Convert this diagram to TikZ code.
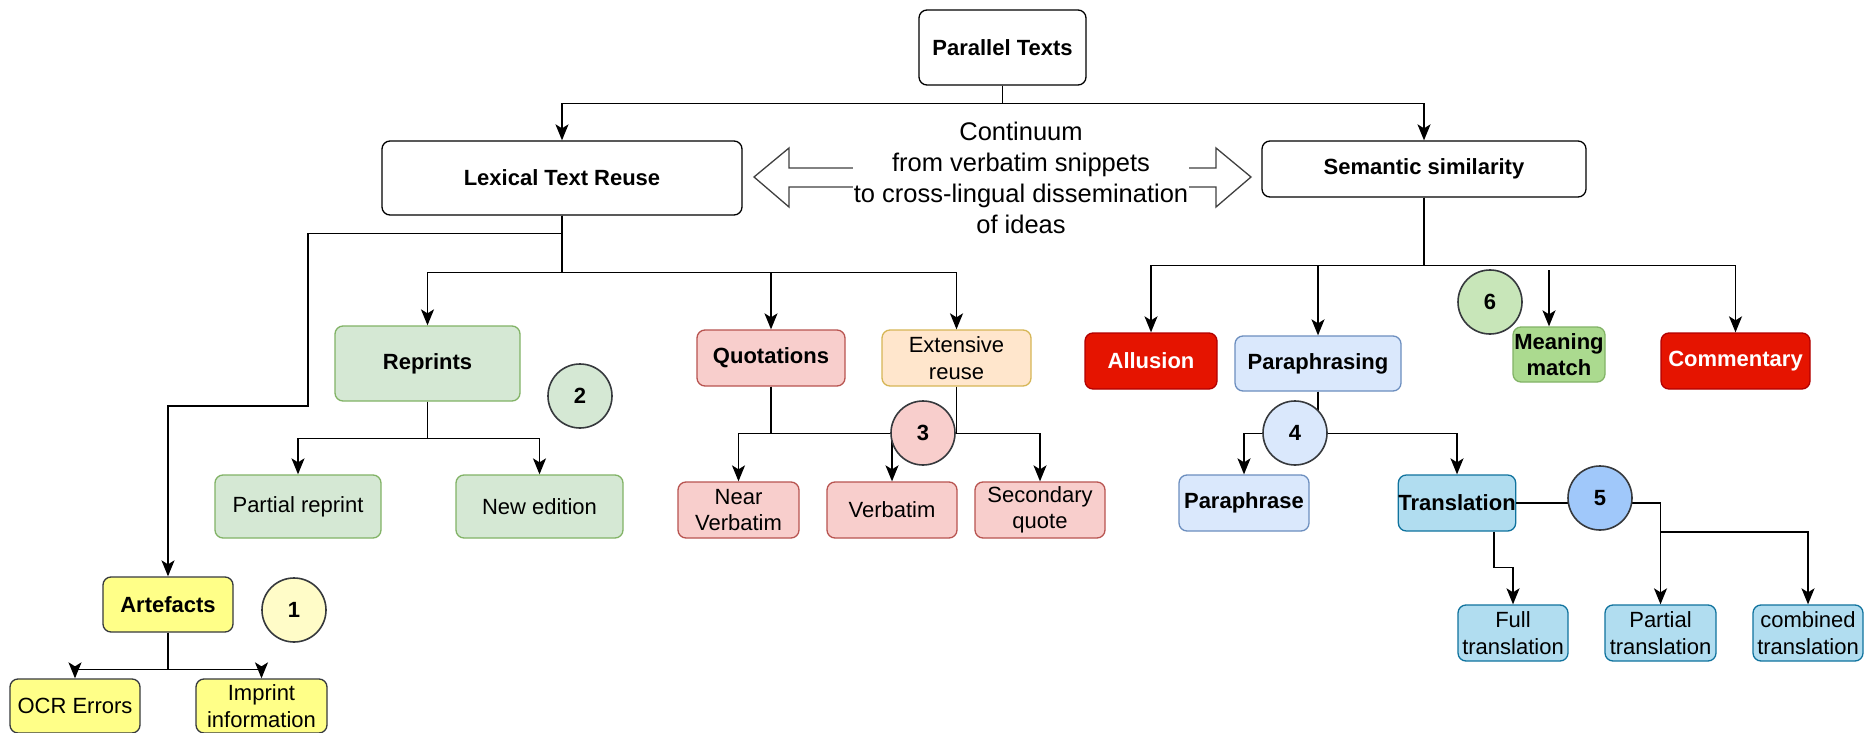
\documentclass[tikz,border=0pt]{standalone}
\usepackage{fontspec}
\setmainfont{Liberation Sans}
\usetikzlibrary{arrows.meta}
\definecolor{gfill}{HTML}{D5E8D4}\definecolor{gline}{HTML}{82B366}
\definecolor{pfill}{HTML}{F8CECC}\definecolor{pline}{HTML}{B85450}
\definecolor{ofill}{HTML}{FFE6CC}\definecolor{oline}{HTML}{D6B656}
\definecolor{yfill}{HTML}{FFFF88}\definecolor{yline}{HTML}{36393D}
\definecolor{bfill}{HTML}{DAE8FC}\definecolor{bline}{HTML}{6C8EBF}
\definecolor{tfill}{HTML}{B1DDF0}\definecolor{tline}{HTML}{10739E}
\definecolor{rfill}{HTML}{E51400}\definecolor{rline}{HTML}{B20000}
\definecolor{mfill}{RGB}{171,218,143}
\definecolor{cline}{HTML}{36393D}
\definecolor{c1fill}{RGB}{255,252,200}
\definecolor{c5fill}{RGB}{160,200,250}
\definecolor{c6fill}{RGB}{200,230,185}
\tikzset{
  base/.style={rounded corners=8pt, line width=1.3pt, inner sep=0pt, align=center,
    font=\fontsize{22}{26.5}\selectfont},
  bold/.style={font=\fontsize{22}{26.5}\selectfont\bfseries},
  wbox/.style={base, bold, draw=black, fill=white},
  gbox/.style={base, draw=gline, fill=gfill},
  pbox/.style={base, draw=pline, fill=pfill},
  obox/.style={base, draw=oline, fill=ofill},
  ybox/.style={base, draw=yline, fill=yfill},
  bbox/.style={base, draw=bline, fill=bfill},
  tbox/.style={base, draw=tline, fill=tfill},
  rbox/.style={base, bold, draw=rline, fill=rfill, text=white},
  mbox/.style={base, bold, draw=gline, fill=mfill},
  circ/.style={circle, draw=cline, line width=1.6pt, minimum size=64pt, inner sep=0pt,
    font=\fontsize{22}{26}\selectfont\bfseries},
  arr/.style={-{Stealth[length=16pt,width=13pt,inset=4pt]}, line width=1.6pt},
  ln/.style={line width=1.6pt}
}
\begin{document}
\begin{tikzpicture}[x=1pt,y=-1pt]
\useasboundingbox[fill=white] (0,0) rectangle (1864,733);

% top level
\node[wbox, minimum width=167, minimum height=75] (par) at (1002.5,47.5) {Parallel Texts};
\node[wbox, minimum width=360, minimum height=74] (lex) at (562,178) {Lexical Text Reuse};
\node[wbox, minimum width=324, minimum height=56] (sem) at (1424,169) {Semantic similarity};

% continuum double arrow
\coordinate (dl) at (754,177);
\coordinate (dr) at (1251,177);
\draw[line width=1.3pt, draw=black!75, fill=white]
  (dl) -- (789,148) -- (789,168) -- (1216,168) -- (1216,148) -- (dr)
  -- (1216,207) -- (1216,187) -- (789,187) -- (789,207) -- cycle;
\node[fill=white, inner sep=1pt, align=center, font=\fontsize{25.5}{31}\selectfont] (cont) at (1021,178)
  {Continuum\\from verbatim snippets\\to cross-lingual dissemination\\of ideas};

% lexical subtree
\node[gbox, bold, minimum width=185, minimum height=75] (rep) at (427.5,363.5) {Reprints};
\node[gbox, minimum width=166, minimum height=63] (pr) at (298,506.5) {Partial reprint};
\node[gbox, minimum width=167, minimum height=63] (ne) at (539.5,506.5) {New edition};
\node[ybox, bold, minimum width=130, minimum height=55] (art) at (168,604.5) {Artefacts};
\node[ybox, minimum width=130, minimum height=54] (ocr) at (75,706) {OCR Errors};
\node[ybox, minimum width=131, minimum height=54] (imp) at (261.5,706) {Imprint\\information};
\node[pbox, bold, minimum width=148, minimum height=56] (quo) at (771,358) {Quotations};
\node[obox, minimum width=149, minimum height=56] (ext) at (956.5,358) {Extensive\\reuse};
\node[pbox, minimum width=121, minimum height=56] (nv) at (738.5,510) {Near\\Verbatim};
\node[pbox, minimum width=130, minimum height=56] (vb) at (892,510) {Verbatim};
\node[pbox, minimum width=130, minimum height=56] (sq) at (1040,510) {Secondary\\quote};

% semantic subtree
\node[rbox, minimum width=132, minimum height=56] (all) at (1151,361) {Allusion};
\node[bbox, bold, minimum width=166, minimum height=55] (para) at (1318,363.5) {Paraphrasing};
\node[mbox, minimum width=92, minimum height=55] (mm) at (1559,354.5) {Meaning\\match};
\node[rbox, minimum width=149, minimum height=56] (com) at (1735.5,361) {Commentary};
\node[bbox, bold, minimum width=130, minimum height=56] (pp) at (1244,503) {Paraphrase};
\node[tbox, bold, minimum width=112, minimum height=56] (tr) at (1457,503) {Translation};
\node[tbox, minimum width=110, minimum height=56] (ft) at (1513,633) {Full\\translation};
\node[tbox, minimum width=111, minimum height=56] (pt) at (1660.5,633) {Partial\\translation};
\node[tbox, minimum width=110, minimum height=56] (ct) at (1808,633) {combined\\translation};

% connectors
\draw[arr] (par.south) -- ++(0,18) -| (lex.north);
\draw[arr] (par.south) -- ++(0,18) -| (sem.north);

\coordinate (aj) at (308,406);
\draw[arr] (lex.south) -- ++(0,18) -| (aj) -| (art.north);
\draw[arr] (lex.south) -- ++(0,57) -| (rep.north);
\draw[arr] (lex.south) -- ++(0,57) -| (quo.north);
\draw[arr] (lex.south) -- ++(0,57) -| (ext.north);

\draw[arr] (rep.south) -- ++(0,37) -| (pr.north);
\draw[arr] (rep.south) -- ++(0,37) -| (ne.north);

\draw[arr] (art.south) -- ++(0,37) -| (ocr.north);
\draw[arr] (art.south) -- ++(0,37) -| (imp.north);

\draw[arr] (quo.south) -- ++(0,47) -| (nv.north);
\draw[arr] (quo.south) -- ++(0,47) -| (vb.north);
\draw[arr] (ext.south) -- ++(0,47) -| (sq.north);

\draw[arr] (sem.south) -- ++(0,68) -| (all.north);
\draw[arr] (sem.south) -- ++(0,68) -| (para.north);
\draw[arr] (sem.south) -- ++(0,68) -| (com.north);
\coordinate (mmtop) at (1549,270);
\draw[arr] (mmtop) -- (mmtop |- mm.north);

\draw[arr] (para.south) -- ++(0,42) -| (pp.north);
\draw[arr] (para.south) -- ++(0,42) -| (tr.north);

\draw[arr] (tr.east) -| (pt.north);
\coordinate (tj) at (1661,532);
\draw[arr] (tj) -| (ct.north);
\draw[arr] ([xshift=37pt]tr.south) -- ++(0,36) -| (ft.north);

% numbered circles
\node[circ, fill=c1fill] (c1) at (294,610) {1};
\node[circ, fill=gfill] (c2) at (580,396) {2};
\node[circ, fill=pfill] (c3) at (923,433) {3};
\node[circ, fill=bfill] (c4) at (1295,433) {4};
\node[circ, fill=c5fill] (c5) at (1600,498) {5};
\node[circ, fill=c6fill] (c6) at (1490,302) {6};
\end{tikzpicture}
\end{document}
